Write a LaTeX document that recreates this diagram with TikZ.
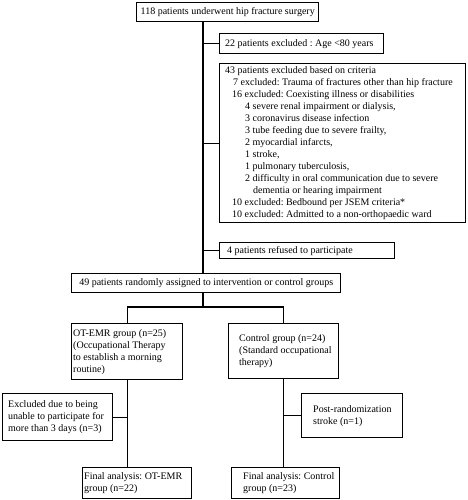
\documentclass[tikz,border=0pt]{standalone}
\usepackage{fontspec}
\setmainfont{Liberation Serif}
\begin{document}
\frenchspacing
\begin{tikzpicture}[x=1pt,y=-1pt,
  frame/.style={draw, line width=1.4pt, anchor=north west, inner sep=0pt,
    font=\fontsize{10}{12}\selectfont},
  txt/.style={anchor=west, inner sep=0pt, align=left, font=\fontsize{10}{12}\selectfont},
  link/.style={line width=1.4pt}]
\useasboundingbox (0,0) rectangle (467,500);
% boxes
\node[frame, minimum width=182pt, minimum height=19pt] (b118) at (136,2) {118 patients underwent hip fracture surgery};
\node[frame, minimum width=164pt, minimum height=20pt] (b22) at (219,33) {};
\node[frame, minimum width=246pt, minimum height=159pt] (b43) at (219,63) {};
\node[frame, minimum width=175pt, minimum height=16pt] (b4) at (219,242) {};
\node[frame, minimum width=269pt, minimum height=19pt] (b49) at (71,273) {49 patients randomly assigned to intervention or control groups};
\node[frame, minimum width=111pt, minimum height=56pt] (bOT) at (71,323) {};
\node[frame, minimum width=110pt, minimum height=55pt] (bCtl) at (228,323) {};
\node[frame, minimum width=110pt, minimum height=47pt] (bEx) at (2,393) {};
\node[frame, minimum width=101pt, minimum height=44pt] (bPost) at (301,393) {};
\node[frame, minimum width=109pt, minimum height=31pt] (bFinOT) at (82,467) {};
\node[frame, minimum width=108pt, minimum height=31pt] (bFinCt) at (231,467) {};
% texts
\node[txt] (t22) at ([xshift=6pt]b22.west) {22 patients excluded : Age <80 years};
\node[txt] (t43) at ([xshift=6pt]b43.west) {43 patients excluded based on criteria\\
\hspace*{8pt}7 excluded: Trauma of fractures other than hip fracture\\
\hspace*{7pt}16 excluded: Coexisting illness or disabilities\\
\hspace*{20pt}4 severe renal impairment or dialysis,\\
\hspace*{20pt}3 coronavirus disease infection\\
\hspace*{20pt}3 tube feeding due to severe frailty,\\
\hspace*{20pt}2 myocardial infarcts,\\
\hspace*{20pt}1 stroke,\\
\hspace*{20pt}1 pulmonary tuberculosis,\\
\hspace*{20pt}2 difficulty in oral communication due to severe\\
\hspace*{28pt}dementia or hearing impairment\\
\hspace*{7pt}10 excluded: Bedbound per JSEM criteria*\\
\hspace*{7pt}10 excluded: Admitted to a non-orthopaedic ward};
\node[txt] (t4) at ([xshift=8pt]b4.west) {4 patients refused to participate};
\node[txt] (tOT) at ([xshift=2pt]bOT.west) {OT-EMR group (n=25)\\(Occupational Therapy\\to establish a morning\\routine)};
\node[txt] (tCtl) at ([xshift=11pt]bCtl.west) {Control group (n=24)\\(Standard occupational\\therapy)};
\node[txt] (tEx) at ([xshift=6pt]bEx.west) {Excluded due to being\\unable to participate for\\more than 3 days (n=3)};
\node[txt] (tPost) at ([xshift=12pt]bPost.west) {Post-randomization\\stroke (n=1)};
\node[txt] (tFinOT) at ([xshift=2pt]bFinOT.west) {Final analysis: OT-EMR\\group (n=22)};
\node[txt] (tFinCt) at ([xshift=12pt]bFinCt.west) {Final analysis: Control\\group (n=23)};
% connectors
\coordinate (trunk) at (203,0);
\coordinate (split) at (203,307);
\draw[link] (b118.south -| trunk) -- (b49.north -| trunk);
\draw[link] (b22.west -| trunk) -- (b22.west);
\draw[link] (b43.west -| trunk) -- (b43.west);
\draw[link] (b4.west -| trunk) -- (b4.west);
\draw[link] (b49.south -| split) -- (split);
\draw[link] (bOT.north) |- (split) -| (bCtl.north);
\draw[link] (bOT.south) -- (bFinOT.north -| bOT.south);
\draw[link] (bEx.east) -- (bEx.east -| bOT.south);
\draw[link] (bCtl.south) -- (bFinCt.north -| bCtl.south);
\draw[link] (bPost.west) -- (bPost.west -| bCtl.south);
\end{tikzpicture}
\end{document}
